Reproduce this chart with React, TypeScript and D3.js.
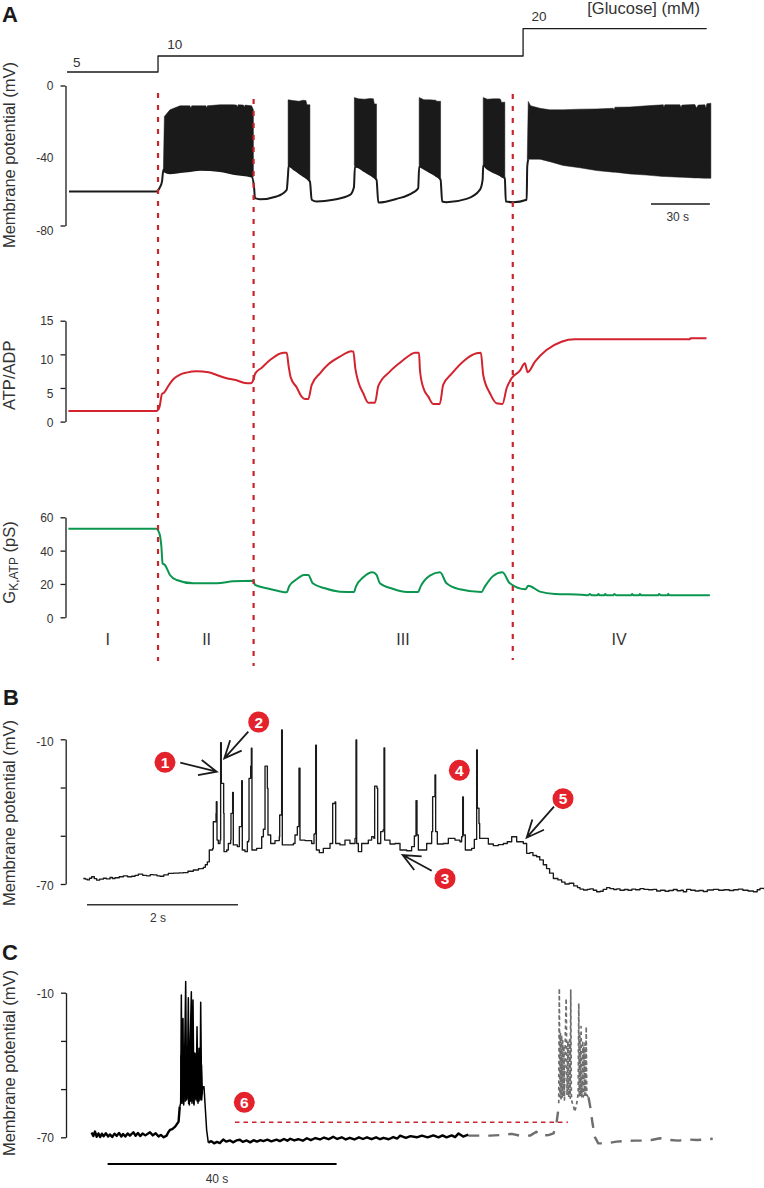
import React, { useEffect, useRef } from 'react';
import * as d3 from 'd3';

type Pt = [number, number];
type BurstPt = [number, number, number];

// Panel A, time in s
const glucoseSteps: Pt[] = [[0, 5], [45.9, 10], [230, 20], [322.6, 20]];
const phaseTimes = [45.9, 94.1, 224.8];
const phaseNames = ['I', 'II', 'III', 'IV'];
const phaseNameTimes = [20.5, 70.4, 169.4, 278.4];

// lower edge of the voltage trace, mV
const vmLower: Pt[] = [
  [1, -60.6], [45.2, -60.6], [46.6, -58.7], [47.9, -54.9], [48.6, -48.2], [49.1, -49.1], [51.9, -50.1], [57, -49.5],
  [62, -48.8], [67.1, -48.2], [77.1, -48.8], [83.9, -50.5], [93.1, -52], [94.3, -57.7], [94.8, -64.4], [97.3, -65],
  [105.7, -63.4], [110.8, -59.6], [111.4, -52], [111.8, -45.7], [114, -47.5], [117, -50], [119, -51.5], [122.5, -54.9],
  [123.4, -65.3], [125.9, -66.3], [134.3, -65.3], [142.7, -62.5], [144.7, -58.1], [145.2, -46.3], [147, -46.8],
  [150, -49], [153, -51], [156.1, -53.9], [157, -66.9], [166.2, -64.8], [174.6, -61.1], [177.1, -58.7], [177.6, -46.3],
  [180, -47.5], [183, -49.5], [186, -51.5], [188.4, -53.9], [189.2, -66.3], [191.4, -66.7], [201.5, -64.8],
  [208.2, -59.6], [209.6, -53.9], [209.9, -45.7], [212, -47.5], [215, -49.5], [218, -51], [220.8, -53], [221.3, -66.3],
  [225, -66.7], [231.8, -65.3], [232.1, -46.3], [232.6, -42.1],
];

// spike bursts: time, upper edge, lower edge
const burst1: BurstPt[] = [
  [48.6, -48.2, -48.2], [49.1, -17.7, -49.1], [51.9, -13.9, -50.1], [57, -11.6, -49.5], [62, -11.6, -48.8], [62.4, -13, -48.8],
  [62.9, -11.6, -48.8], [67.1, -11.6, -48.2], [70.1, -11.6, -48.3], [70.4, -13, -48.3], [70.8, -11.6, -48.3], [77.1, -11, -48.8],
  [83.9, -11, -50.5], [85.5, -11.2, -50.8], [85.9, -12.4, -50.8], [86.3, -11, -50.8], [89, -11.2, -51.2], [89.4, -12.4, -51.2],
  [89.8, -11.2, -51.2], [93.1, -11.6, -52], [94, -13.9, -52],
];
const burst2: BurstPt[] = [[111.5, -8.2, -45.7], [114, -8.6, -47.5], [117, -9, -50], [119, -8.4, -51.5], [120.5, -8.6, -52.5], [121, -11, -53], [122.5, -11, -54.9]];
const burst3: BurstPt[] = [[144.9, -6.9, -45.7], [147, -7.6, -46.8], [150, -7.8, -49], [153, -7.4, -51], [154.5, -7.6, -52], [155, -10.5, -52.5], [156.1, -10.5, -53.9]];
const burst4: BurstPt[] = [[177.6, -6.9, -45.7], [180, -8.1, -47.5], [183, -8.2, -49.5], [186, -8.4, -51.5], [186.5, -9, -52], [188.4, -9, -53.9]];
const burst5: BurstPt[] = [[209.9, -6.9, -45.7], [212, -7.8, -47.5], [215, -7.6, -49.5], [218, -7.6, -51], [218.7, -8, -52], [219, -9.5, -52.3], [220.8, -9.5, -53]];
const burst6: BurstPt[] = [
  [232.1, -42.1, -42.1], [232.6, -9.1, -42.1], [233.8, -11.6, -42.1], [238.5, -13, -42.1], [243.5, -13.9, -43.5], [250.2, -13.9, -45.7],
  [258.6, -13.5, -47], [267, -13.4, -48.6], [275.4, -13, -49.5], [275.9, -13.9, -49.5], [276.3, -12.4, -49.5], [283.8, -12.3, -50.5],
  [292.3, -11.6, -51.2], [300.7, -11, -52], [301, -12.4, -52], [301.5, -11, -52], [309.1, -11, -52.4], [309.6, -12.6, -52.4],
  [310.1, -11.2, -52.4], [316.6, -10.8, -52.8], [317.5, -12.9, -52.8], [318.3, -11.2, -52.8], [321.7, -11, -53], [322.2, -12.9, -53],
  [322.7, -10.4, -53], [324.7, -10.1, -53],
];

const atpAdp: Pt[] = [
  [0.7, 1.58], [45.2, 1.58], [46.6, 2.13], [47.9, 4.1], [48.9, 4.3], [51.1, 5.3], [53.6, 6.29], [57, 6.98], [60.3, 7.28], [65.4, 7.48],
  [71.3, 7.33], [75.5, 6.93], [80.5, 6.44], [85.5, 6.14], [89.7, 5.74], [92.6, 5.69], [94, 6.19], [94.8, 7.08], [98.2, 8.02], [102.4, 9.16],
  [109.1, 10.25], [110.8, 10.25], [111.8, 8.17], [112.8, 6.58], [115.8, 5.1], [118.3, 3.71], [120, 3.37], [121.7, 3.37], [123.4, 5.45],
  [127.6, 7.18], [131.8, 8.51], [137.6, 9.65], [143.5, 10.45], [144.4, 10.4], [145.4, 7.92], [146.9, 5.94], [149.4, 4.21], [151.9, 2.82],
  [155.3, 2.82], [157, 5.3], [162.8, 7.43], [167.9, 8.76], [173, 9.9], [175.4, 10.25], [177.5, 10.25], [178, 7.67], [179.6, 5.1],
  [182.2, 3.71], [184.7, 2.62], [188, 2.62], [189.7, 5.45], [193.9, 7.08], [200.7, 9.16], [206.5, 10.15], [208.7, 10.25], [209.9, 6.93],
  [213.3, 4.21], [216.6, 2.72], [219.6, 2.62], [221.7, 4.95], [224.2, 6.44], [228.4, 7.57], [230.9, 8.66], [232.3, 7.33], [236, 8.91],
  [241.8, 10.64], [249.4, 11.88], [256.1, 12.23], [314.1, 12.23], [314.4, 12.38], [322.5, 12.38],
];

const gKatp: Pt[] = [
  [0.7, 53.2], [44.9, 53.2], [46.6, 50.4], [47.6, 42.4], [48.2, 32.4], [49.4, 31.4], [51.9, 25.4], [55.3, 22.4], [63.7, 20.4], [75.5, 20.4],
  [83.9, 21.6], [94, 22], [94.8, 19.4], [100.7, 17.4], [106.6, 15.8], [110.8, 15], [112.1, 18.8], [115.8, 22.8], [119.5, 25.4], [121.7, 25.4],
  [123.9, 20.4], [130.1, 17.4], [137.6, 15.4], [144.7, 15.2], [145.7, 18.4], [149.4, 24], [154.1, 27], [156.1, 25.4], [157.8, 20.4],
  [164.5, 17], [171.2, 15.2], [177.1, 15.2], [178.3, 18.4], [183, 25], [188.1, 27], [191.4, 20.4], [198.1, 16.8], [209, 15.2], [210.7, 18.4],
  [214.9, 24.8], [219.6, 27], [223.3, 20.4], [231.2, 16.8], [232.6, 19], [238.5, 15.4], [246, 14], [259.5, 13.6], [262.8, 13.2], [263.7, 14],
  [264.5, 13.2], [267.5, 13.2], [268, 14], [268.6, 13.2], [271, 13.2], [271.4, 14], [272, 13.2], [275.5, 13.2], [276, 14], [277, 13.2],
  [284.5, 13.2], [285, 14], [285.6, 13.2], [288.5, 13.2], [288.9, 14], [289.5, 13.2], [298.2, 13.2], [298.6, 14], [299.5, 13.2], [302.8, 13.2],
  [303.2, 14.2], [303.6, 13.2], [324.2, 13.2],
];

// Panel B, time in s, mV
const traceB: Pt[] = [
  [0.004, -67.7], [0.03, -68], [0.057, -68.3], [0.085, -67.6], [0.115, -67], [0.15, -67.8], [0.181, -68.4], [0.22, -68], [0.269, -67.6], [0.31, -67.9],
  [0.358, -67.3], [0.39, -67.7], [0.424, -67.4], [0.48, -67], [0.534, -66.6], [0.59, -67], [0.645, -66.8], [0.69, -66.4], [0.733, -65.9], [0.79, -66.4],
  [0.843, -66.6], [0.89, -66.1], [0.932, -66.2], [0.98, -66.6], [1.02, -66.8], [1.07, -66.2], [1.13, -65.6], [1.2, -65.5], [1.27, -65.4], [1.329, -65.3],
  [1.39, -64.7], [1.461, -64.2], [1.53, -63.6], [1.594, -63.1], [1.62, -62], [1.647, -60.8],
  [1.673, -55.9], [1.717, -55.2], [1.726, -44.2], [1.762, -40.7], [1.766, -35.9], [1.775, -51.8], [1.792, -53.2], [1.815, -51.8],
  [1.823, -11.4], [1.832, -28.3], [1.863, -40.7], [1.868, -56.6], [1.903, -55.9], [1.925, -53.2], [1.956, -51.8], [1.96, -40.7], [1.982, -32],
  [1.991, -53.8], [2.044, -54.5], [2.071, -46.2], [2.102, -27.2], [2.11, -55.9], [2.146, -56.6], [2.177, -52.5], [2.194, -51.8], [2.199, -26.2],
  [2.221, -21.1], [2.23, -13.7], [2.238, -55.9], [2.3, -55.2], [2.367, -50.4], [2.389, -47.3], [2.411, -21.1], [2.442, -30.3], [2.45, -49.7],
  [2.486, -53.2], [2.543, -52], [2.6, -50.4], [2.605, -41.4], [2.631, -6.1], [2.64, -53.8], [2.698, -53.8], [2.786, -53.2], [2.808, -49.7],
  [2.839, -46.2], [2.861, -22], [2.874, -51.8], [2.94, -52], [3.029, -53.2], [3.06, -49.3], [3.073, -49], [3.082, -12.4], [3.091, -55.9],
  [3.13, -57], [3.183, -55.2], [3.272, -53.2], [3.307, -36.6], [3.338, -36], [3.347, -53.2], [3.404, -53.8], [3.47, -51.8], [3.536, -53.2],
  [3.603, -51.1], [3.616, -10.3], [3.625, -53.2], [3.647, -56.6], [3.691, -53.2], [3.779, -51.8], [3.823, -50.4], [3.854, -51.1], [3.863, -29.4],
  [3.894, -30.3], [3.903, -53.2], [3.943, -48.3], [3.974, -47.6], [3.987, -13.6], [3.996, -51.8], [4.066, -53.4], [4.132, -53.2], [4.199, -55.9],
  [4.287, -56.2], [4.353, -54.5], [4.389, -50.1], [4.411, -35.4], [4.424, -49.7], [4.442, -55.9], [4.486, -55.9], [4.552, -53.2], [4.618, -48.3],
  [4.631, -33.8], [4.662, -24.8], [4.671, -48.3], [4.693, -53.4], [4.773, -53.2], [4.839, -51.1], [4.927, -51.8], [4.993, -52.5], [5.015, -50.4],
  [5.029, -33.9], [5.038, -49.7], [5.064, -55.9], [5.148, -55.2], [5.183, -51.5], [5.214, -14.4], [5.223, -38.6], [5.245, -44.9], [5.254, -51.1],
  [5.302, -51.1], [5.369, -53.4], [5.435, -54.1], [5.5, -53.7], [5.567, -53.2], [5.62, -52.5], [5.678, -50.4], [5.744, -52.5], [5.832, -53.2],
  [5.876, -57.3], [5.92, -57], [5.96, -58.2], [6.009, -58.7], [6.05, -60], [6.097, -62], [6.14, -63.6], [6.18, -65.5], [6.23, -67.7], [6.29, -68.3],
  [6.34, -69.2], [6.384, -70], [6.44, -69.7], [6.5, -70.8], [6.55, -71.5], [6.583, -72.1], [6.63, -72.5], [6.68, -72.2], [6.715, -72], [6.76, -72.6],
  [6.804, -73.2], [6.85, -73], [6.89, -72.2], [6.936, -71.5], [6.98, -71.9], [7.03, -72.3], [7.07, -72], [7.112, -72.6], [7.17, -72.3], [7.22, -72.6],
  [7.27, -72.1], [7.32, -72.4], [7.377, -71.9], [7.43, -72.2], [7.49, -72.4], [7.55, -72.2], [7.598, -72.9], [7.65, -72.6], [7.71, -73], [7.76, -72.7],
  [7.819, -72.3], [7.87, -72.8], [7.92, -72.6], [7.951, -73.2], [7.995, -72.2], [8.05, -72.6], [8.11, -72.9], [8.16, -72.7], [8.216, -73.1], [8.27, -72.5],
  [8.349, -72.2], [8.42, -72.6], [8.49, -72.4], [8.56, -72.7], [8.62, -72.4], [8.68, -72.1], [8.74, -72.6], [8.81, -72.9], [8.879, -73.2], [8.93, -72.4],
  [8.967, -71.8], [9.02, -72.2],
];

// Panel C, time in s, mV
const traceCBefore: Pt[] = [
  [0.1, -68], [0.4, -69.5], [0.7, -67.6], [1, -69.8], [1.3, -68.4], [1.6, -69.9], [1.9, -68.5], [2.2, -69.6], [2.6, -68.3], [3, -69.7], [3.3, -68.8],
  [3.7, -69.9], [4.1, -68.5], [4.5, -69.4], [4.9, -68.2], [5.3, -69.7], [5.6, -68.6], [6, -69.7], [6.4, -68.4], [6.8, -69.3], [7.4, -67.9], [7.8, -69.4],
  [8.2, -68.2], [8.6, -69.5], [9, -68.4], [9.5, -69.2], [10.3, -67.9], [10.8, -69.2], [11.3, -68.3], [11.8, -69.7], [12.2, -69], [12.7, -70], [13.2, -69.3],
  [13.5, -67.9], [13.8, -66.9], [14.2, -66.6], [14.7, -65.6], [15.3, -63.5], [15.5, -57.3],
];
const traceCBurst: Pt[] = [
  [15.5, -57.3], [15.66, -55.9], [15.78, -11], [15.9, -55.9], [16.07, -20.7], [16.19, -56.6], [16.36, -35.2], [16.54, -5.4], [16.71, -54.5],
  [16.89, -35.2], [17, -12.1], [17.18, -56.6], [17.35, -28.3], [17.53, -9.6], [17.64, -55.9], [17.82, -13], [17.99, -56.6], [18.17, -35.2],
  [18.34, -54.5], [18.52, -24.1], [18.69, -55.9], [18.86, -33.1], [19.04, -54.5], [19.16, -14], [19.33, -54.5], [19.51, -49], [19.74, -49],
  [19.91, -55.9], [20.2, -67], [20.49, -72.2],
];
const traceCBand: Pt[] = [
  [15.7, -36], [15.85, -55], [16, -34], [16.15, -56], [16.3, -35], [16.45, -55], [16.6, -34], [16.75, -54], [16.9, -36], [17.05, -56], [17.2, -35], [17.35, -55],
  [17.5, -33], [17.65, -55], [17.8, -36], [17.95, -56], [18.1, -35], [18.25, -54], [18.4, -36], [18.55, -55], [18.7, -37], [18.85, -55], [19, -36], [19.15, -54],
  [19.3, -40], [19.45, -52],
];
const traceCAfter: Pt[] = [
  [20.49, -72.2], [21, -71.6], [21.5, -72.5], [22, -71.9], [22.5, -72.4], [23.1, -70.9], [23.6, -71.8], [24.3, -71.3], [24.8, -72.1], [25.4, -71.3], [26, -71],
  [26.5, -71.9], [27.2, -71.3], [27.8, -72.1], [28.4, -71.2], [29, -71.8], [29.6, -71.2], [30.1, -71.6], [30.8, -71], [31.5, -71.7], [32.4, -71], [33, -71.6],
  [33.7, -70.7], [34.3, -71.4], [34.8, -70.6], [35.5, -71.3], [36.2, -70.8], [37, -71.4], [37.7, -70.4], [38.4, -71.2], [39.2, -70.3], [40, -70.9], [40.7, -70.1],
  [41.5, -70.8], [42.3, -69.8], [43, -70.7], [43.8, -70], [44.5, -70.9], [45.2, -70.2], [46, -70.9], [46.8, -70], [47.5, -70.7], [48.2, -70], [49, -70.8],
  [49.8, -70], [50.5, -70.8], [51.1, -70.2], [52, -70.8], [52.8, -69.9], [53.5, -70.5], [54, -69.3], [55, -70.2], [55.8, -69.5], [56.9, -70], [57.8, -69.3],
  [58.8, -70], [59.8, -69.2], [60.7, -70], [61.4, -69.2], [62.1, -70], [63, -69.2], [63.6, -69.9], [64.2, -68.4], [65, -69.7], [65.9, -68.9],
];
const greyBefore: Pt[] = [
  [65.9, -69.3], [67.9, -69.3], [69.7, -69.3], [71.4, -69.1], [73.5, -68.6], [74.9, -69.3], [76.7, -69.3], [77.8, -67.7], [78.4, -69.3],
  [79.9, -69.1], [80.8, -68.4], [81.3, -64.2], [81.7, -57.3],
];
const greyBurst: Pt[] = [
  [81.7, -55.9], [81.8, -8.2], [81.9, -53.2], [82, -27], [82.1, -54], [82.2, -27.6], [82.3, -53.8], [82.4, -30], [82.5, -53], [82.6, -32], [82.7, -54.5],
  [82.85, -28], [83, -12.4], [83.15, -52.5], [83.3, -30], [83.45, -53.4], [83.6, -29.6], [83.7, -53.8], [83.8, -8.9], [83.9, -52], [84, -55.2], [84.3, -57.3],
  [84.5, -59.4], [84.8, -56.6], [85.1, -51.8], [85.2, -14.4], [85.3, -53.2], [85.4, -28], [85.5, -53], [85.6, -24.1], [85.75, -53.2], [85.9, -30], [86, -53.2],
  [86.1, -32.4], [86.2, -52.5], [86.3, -30], [86.4, -52.5], [86.5, -24.1], [86.6, -52.5], [86.9, -53.4],
];
const greyAfter: Pt[] = [
  [86.9, -53.4], [87.2, -57.3], [87.6, -64.2], [88, -69.8], [88.6, -72.5], [90.1, -72.5], [91.8, -71.8], [93.6, -71.5], [95, -71.4], [96.2, -71.4],
  [97.9, -71.1], [99.4, -70.4], [101.1, -71.1], [102.6, -71.4], [104.3, -70.9], [105.8, -71.1], [107.2, -70.9], [108.6, -70.6],
];
const thresholdC: Pt[] = [[25.15, -63.8], [83.3, -63.8]];

// Call-outs in page pixels
const badges: [string, number, number][] = [
  ['1', 165, 762.3], ['2', 258.7, 722], ['3', 445, 878.7], ['4', 459.3, 770.3], ['5', 563, 798.7], ['6', 244.3, 1102.3],
];
const arrows: [number, number, number, number][] = [
  [180.3, 762.7, 216.7, 771.7], [248.3, 731.7, 224.3, 758.3], [431.7, 870.7, 402.7, 855], [554, 806.7, 526.7, 837.7],
];

const FONT = '"Liberation Sans", Arial, sans-serif';
const RED = '#c9252f';
const INK = '#1a1a1a';

const App: React.FC = () => {
  const ref = useRef<SVGSVGElement | null>(null);

  useEffect(() => {
    const svg = d3.select(ref.current);
    svg.selectAll('*').remove();
    svg.attr('font-family', FONT);

    const xA = d3.scaleLinear().domain([0, 323]).range([67, 707.5]);
    const xB = d3.scaleLinear().domain([0, 9.02]).range([83, 764]);
    const xC = d3.scaleLinear().domain([0, 110]).range([91, 720.75]);
    const yGlu = d3.scaleLinear().domain([5, 10, 20]).range([72, 56, 28.6]);
    const yVm = d3.scaleLinear().domain([0, -80]).range([85.5, 225.5]);
    const yAtp = d3.scaleLinear().domain([0, 15]).range([421.6, 320.7]);
    const yG = d3.scaleLinear().domain([0, 60]).range([617.3, 517.3]);
    const yB = d3.scaleLinear().domain([-10, -70]).range([739.3, 884]);
    const yC = d3.scaleLinear().domain([-10, -70]).range([992.7, 1137.3]);

    const drawLine = (
      data: Pt[],
      x: d3.ScaleLinear<number, number>,
      y: d3.ScaleLinear<number, number>,
      color: string,
      width: number,
      dash?: string,
      curve: d3.CurveFactory = d3.curveLinear,
    ) => {
      const line = d3.line<Pt>().x((d) => x(d[0])).y((d) => y(d[1])).curve(curve);
      svg.append('path').attr('d', line(data)).attr('fill', 'none').attr('stroke', color)
        .attr('stroke-width', width).attr('stroke-dasharray', dash ?? null).attr('stroke-linejoin', 'round');
    };

    const drawAxis = (
      scale: d3.ScaleLinear<number, number>,
      xPos: number,
      ticks: number[],
      labels: Record<number, string>,
      shifts: Record<number, number>,
      hidden: number[] = [],
    ) => {
      const axis = d3.axisLeft(scale).tickValues(ticks).tickSize(5).tickSizeOuter(0).tickPadding(7)
        .tickFormat((d) => labels[d as number] ?? '');
      const g = svg.append('g').attr('transform', `translate(${xPos},0)`).call(axis);
      g.attr('font-family', FONT).attr('font-size', 12);
      g.select('.domain').attr('stroke', INK).attr('stroke-width', 1.3);
      g.selectAll<SVGLineElement, number>('.tick line').attr('stroke', INK).attr('stroke-width', 1.3)
        .attr('display', (d) => (hidden.includes(d) ? 'none' : null));
      g.selectAll<SVGTextElement, number>('.tick text').attr('fill', '#333')
        .attr('transform', (d) => `translate(0,${shifts[d] ?? 0})`);
    };

    const drawBurst = (data: BurstPt[]) => {
      const area = d3.area<BurstPt>().x((d) => xA(d[0])).y0((d) => yVm(d[2])).y1((d) => yVm(d[1]));
      svg.append('path').attr('d', area(data)).attr('fill', INK).attr('stroke', INK).attr('stroke-width', 0.5);
    };

    const label = (txt: string, x: number, y: number, size: number, anchor = 'start', weight = 'normal', fill = '#333') =>
      svg.append('text').attr('x', x).attr('y', y).attr('font-size', size).attr('text-anchor', anchor)
        .attr('font-weight', weight).attr('fill', fill).text(txt);

    const yTitle = (txt: string, yMid: number) =>
      svg.append('text').attr('transform', `translate(14.5,${yMid}) rotate(-90)`).attr('text-anchor', 'middle')
        .attr('font-size', 16.5).attr('fill', '#333').text(txt);

    const scaleBar = (x: d3.ScaleLinear<number, number>, t0: number, t1: number, y: number, width: number, color: string) =>
      svg.append('line').attr('x1', x(t0)).attr('x2', x(t1)).attr('y1', y).attr('y2', y)
        .attr('stroke', color).attr('stroke-width', width);

    // panel letters
    label('A', 2, 21.5, 22, 'start', 'bold', INK);
    label('B', 3, 704.5, 22, 'start', 'bold', INK);
    label('C', 2, 959.5, 22, 'start', 'bold', INK);

    // glucose steps
    drawLine(glucoseSteps, xA, yGlu, INK, 1.3, undefined, d3.curveStepAfter);
    label('5', xA(3), 67, 13.5);
    label('10', xA(50.5), 49, 13.5);
    label('20', xA(234.3), 21, 13.5);
    label('[Glucose] (mM)', 700, 14, 16.5, 'end');

    // panel A traces
    drawAxis(yVm, 65.5, [0, -40, -80], { 0: '0', [-40]: '-40', [-80]: '-80' }, { [-40]: 2.5, [-80]: 5 }, [-40]);
    drawLine(vmLower, xA, yVm, INK, 2, undefined, d3.curveMonotoneX);
    [burst1, burst2, burst3, burst4, burst5, burst6].forEach(drawBurst);
    scaleBar(xA, 294.5, 324.2, 204, 1.3, INK);
    label('30 s', xA(308), 221, 12, 'middle');
    yTitle('Membrane potential (mV)', 155);

    drawAxis(yAtp, 65.5, [0, 5, 10, 15], { 0: '0', 5: '5', 10: '10', 15: '15' }, { 0: 1.5, 5: 5.5, 10: 5.5, 15: 0 });
    drawLine(atpAdp, xA, yAtp, '#d2232e', 2, undefined, d3.curveMonotoneX);
    yTitle('ATP/ADP', 375.3);

    drawAxis(yG, 65.5, [0, 20, 40, 60], { 0: '0', 20: '20', 40: '40', 60: '60' }, { 0: 1, 20: 1, 40: 1, 60: 0 });
    drawLine(gKatp, xA, yG, '#0b9650', 2, undefined, d3.curveMonotoneX);
    const gTitle = svg.append('text').attr('transform', 'translate(14.5,562.5) rotate(-90)').attr('text-anchor', 'middle')
      .attr('font-size', 16.5).attr('fill', '#333');
    gTitle.append('tspan').text('G');
    gTitle.append('tspan').attr('font-size', 12).attr('dy', 3.5).text('K,ATP');
    gTitle.append('tspan').attr('dy', -3.5).text(' (pS)');

    phaseNames.forEach((name, i) => label(name, xA(phaseNameTimes[i]), 645, 16, 'middle'));

    // phase boundaries
    const phaseTop = [93, 99, 94];
    const phaseBottom = [661, 666, 660];
    phaseTimes.forEach((t, i) => {
      svg.append('line').attr('x1', xA(t)).attr('x2', xA(t)).attr('y1', phaseTop[i]).attr('y2', phaseBottom[i])
        .attr('stroke', RED).attr('stroke-width', 2.2).attr('stroke-dasharray', '5 7');
    });

    // panel B
    drawAxis(yB, 65.7, [-10, -30, -50, -70], { [-10]: '-10', [-70]: '-70' }, { [-10]: 2.3, [-70]: 1.7 });
    drawLine(traceB, xB, yB, INK, 1.35, undefined, d3.curveStepAfter);
    scaleBar(xB, 0.053, 2.053, 904.7, 1.5, '#333');
    label('2 s', 158, 922, 12, 'middle');
    yTitle('Membrane potential (mV)', 813);

    // panel C
    drawAxis(yC, 66, [-10, -30, -50, -70], { [-10]: '-10', [-70]: '-70' }, { [-10]: 1.3, [-70]: 0 });
    drawLine(greyBefore, xC, yC, '#6e6e6e', 2.4, '11 9');
    drawLine(greyBurst, xC, yC, '#6e6e6e', 1.7, '3.5 3');
    drawLine(greyAfter, xC, yC, '#6e6e6e', 2.4, '11 9');
    drawLine(traceCBefore, xC, yC, '#000', 2.4);
    drawLine(traceCBurst, xC, yC, '#000', 1.5);
    drawLine(traceCBand, xC, yC, '#000', 1.5);
    drawLine(traceCAfter, xC, yC, '#000', 2.4);
    drawLine(thresholdC, xC, yC, RED, 1.5, '4.5 4');
    scaleBar(xC, 2.9, 42.9, 1164, 2, '#000');
    label('40 s', 217, 1183, 12, 'middle');
    yTitle('Membrane potential (mV)', 1063);

    // call-outs
    arrows.forEach(([x1, y1, x2, y2]) => {
      const angle = Math.atan2(y2 - y1, x2 - x1);
      const barb = (a: number) => [x2 - 19 * Math.cos(angle + a), y2 - 19 * Math.sin(angle + a)];
      const [ax, ay] = barb(0.42);
      const [bx, by] = barb(-0.42);
      svg.append('path').attr('d', `M${x1},${y1}L${x2},${y2}M${ax},${ay}L${x2},${y2}L${bx},${by}`)
        .attr('fill', 'none').attr('stroke', INK).attr('stroke-width', 1.8);
    });
    badges.forEach(([txt, x, y]) => {
      svg.append('circle').attr('cx', x).attr('cy', y).attr('r', 10.5).attr('fill', '#e4222c');
      label(txt, x, y + 5.5, 15.5, 'middle', 'bold', '#fff');
    });
  }, []);

  return <svg ref={ref} width={764} height={1188} style={{ position: 'absolute', left: 0, top: 0, background: '#fff' }} />;
};

export default App;
